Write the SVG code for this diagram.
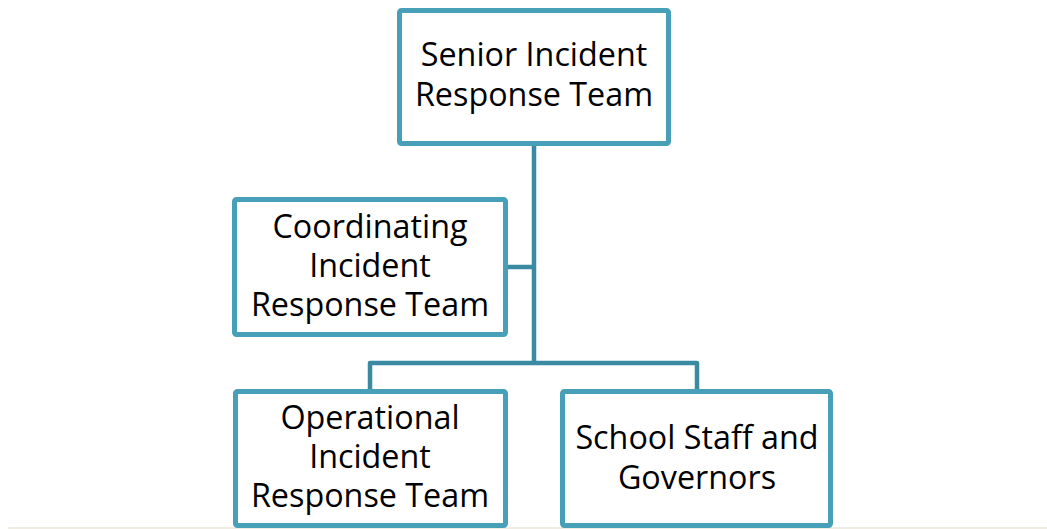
<svg xmlns="http://www.w3.org/2000/svg" width="1047" height="529" viewBox="0 0 1047 529">
<style>
.box{fill:#fff;stroke:#47a0b7;stroke-width:5;}
.conn{fill:none;stroke:#3a8ba1;stroke-width:4.5;stroke-linejoin:round;}
.t{font-family:"Open Sans",sans-serif;font-size:32.3px;fill:#000;text-anchor:middle;}
</style>
<rect x="0" y="0" width="1047" height="529" fill="#fff"/>
<rect x="8" y="527" width="1039" height="2" fill="#eeece3"/>
<g id="connectors">
<path class="conn" d="M534 146 V363"/>
<path class="conn" d="M508 267 H534"/>
<path class="conn" d="M370 389 V363 H697 V389"/>
</g>
<g id="senior">
<rect class="box" x="399.5" y="10.5" width="269" height="133" rx="2"/>
<text class="t" x="534" y="66">Senior Incident</text>
<text class="t" x="534" y="106">Response Team</text>
</g>
<g id="coordinating">
<rect class="box" x="234.5" y="199.5" width="271" height="135" rx="2"/>
<text class="t" x="370" y="238">Coordinating</text>
<text class="t" x="370" y="277">Incident</text>
<text class="t" x="370" y="316">Response Team</text>
</g>
<g id="operational">
<rect class="box" x="235.5" y="391.5" width="270" height="134" rx="2"/>
<text class="t" x="370" y="429">Operational</text>
<text class="t" x="370" y="468">Incident</text>
<text class="t" x="370" y="507">Response Team</text>
</g>
<g id="school">
<rect class="box" x="562.5" y="391.5" width="268" height="134" rx="2"/>
<text class="t" x="697" y="449">School Staff and</text>
<text class="t" x="697" y="489">Governors</text>
</g>
</svg>
